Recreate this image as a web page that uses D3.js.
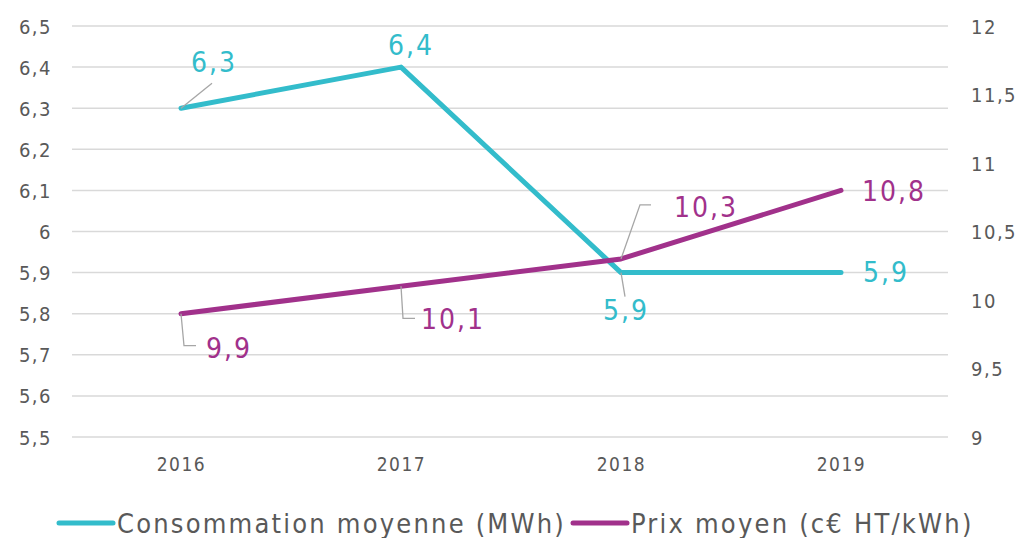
<!DOCTYPE html>
<html lang="fr">
<head>
<meta charset="UTF-8" />
<title>Consommation et prix moyens</title>
<style>
  body { margin: 0; background: #fff; }
  svg text { font-family: "DejaVu Sans Condensed", "DejaVu Sans", sans-serif; }
</style>
</head>
<body>
<script src="https://cdn.jsdelivr.net/npm/d3@7/dist/d3.min.js"></script>
<script>
// data
var years = ["2016", "2017", "2018", "2019"];
var consommation = [6.3, 6.4, 5.9, 5.9];
var prix = [9.9, 10.1, 10.3, 10.8];
var leftTicks = [5.5, 5.6, 5.7, 5.8, 5.9, 6, 6.1, 6.2, 6.3, 6.4, 6.5];
var rightTicks = [9, 9.5, 10, 10.5, 11, 11.5, 12];

var width = 1020, height = 538;
var teal = "#33bccb", purple = "#a1318b", grey = "#595959";

var svg = d3.select("body").append("svg")
  .attr("width", width)
  .attr("height", height);

var x = d3.scalePoint().domain(years).range([71, 951]).padding(0.5);
var yL = d3.scaleLinear().domain([5.5, 6.5]).range([437, 26]);
var yR = d3.scaleLinear().domain([9, 12]).range([437, 26]);

var fmt = function(v) { return String(v).replace(".", ","); };

// gridlines
svg.append("g").selectAll("line")
  .data(leftTicks).enter().append("line")
  .attr("x1", 72).attr("x2", 948)
  .attr("y1", function(d) { return yL(d); })
  .attr("y2", function(d) { return yL(d); })
  .attr("stroke", "#d9d9d9").attr("stroke-width", 1.5);

// left axis
var axL = svg.append("g").attr("transform", "translate(52,0)")
  .call(d3.axisLeft(yL).tickValues(leftTicks).tickFormat(fmt).tickSize(0).tickPadding(0));
axL.select(".domain").remove();
axL.selectAll("text").attr("fill", grey).style("font-size", "20px")
  .style("letter-spacing", "1.5px").attr("dy", "0.35em");

// right axis
var axR = svg.append("g").attr("transform", "translate(971,0)")
  .call(d3.axisRight(yR).tickValues(rightTicks).tickFormat(fmt).tickSize(0).tickPadding(0));
axR.select(".domain").remove();
axR.selectAll("text").attr("fill", grey).style("font-size", "20px")
  .style("letter-spacing", "1.5px").attr("dy", "0.35em");

// x axis
var axX = svg.append("g").attr("transform", "translate(0,457)")
  .call(d3.axisBottom(x).tickSize(0).tickPadding(0));
axX.select(".domain").remove();
axX.selectAll("text").attr("fill", grey).style("font-size", "19px")
  .style("letter-spacing", "1.5px").attr("dy", "0.71em");

// lines
var lineL = d3.line().x(function(d, i) { return x(years[i]); }).y(function(d) { return yL(d); });
var lineR = d3.line().x(function(d, i) { return x(years[i]); }).y(function(d) { return yR(d); });

svg.append("path").datum(consommation).attr("d", lineL)
  .attr("fill", "none").attr("stroke", teal).attr("stroke-width", 5)
  .attr("stroke-linecap", "round").attr("stroke-linejoin", "round");
svg.append("path").datum(prix).attr("d", lineR)
  .attr("fill", "none").attr("stroke", purple).attr("stroke-width", 5)
  .attr("stroke-linecap", "round").attr("stroke-linejoin", "round");

// data labels: offsets from point (dx, dy of label centre), optional leader path
var consLabels = [
  { dx: 32, dy: -46, leader: [[0, 0], [31, -25]] },
  { dx: 9, dy: -22, leader: null },
  { dx: 4, dy: 38, leader: [[0, 0], [4, 24]] },
  { dx: 44, dy: 0, leader: null }
];
var prixLabels = [
  { dx: 47, dy: 34, leader: [[0, 0], [3, 32], [15, 32]] },
  { dx: 51, dy: 33, leader: [[0, 0], [2, 32], [14, 32]] },
  { dx: 84, dy: -52, leader: [[0, 0], [19, -54], [30, -54]] },
  { dx: 52, dy: 1, leader: null }
];

function drawLabels(values, placements, yScale, colour) {
  var g = svg.append("g");
  values.forEach(function(v, i) {
    var px = x(years[i]), py = yScale(v), p = placements[i];
    if (p.leader) {
      g.append("path")
        .attr("d", d3.line()(p.leader.map(function(q) { return [px + q[0], py + q[1]]; })))
        .attr("fill", "none").attr("stroke", "#a6a6a6").attr("stroke-width", 1.3);
    }
    g.append("text")
      .attr("x", px + p.dx + 1).attr("y", py + p.dy)
      .attr("text-anchor", "middle").attr("dy", "0.35em")
      .attr("fill", colour).style("font-size", "28px")
      .style("letter-spacing", "2px")
      .text(fmt(v));
  });
}
drawLabels(consommation, consLabels, yL, teal);
drawLabels(prix, prixLabels, yR, purple);

// legend
var legend = [
  { name: "Consommation moyenne (MWh)", colour: teal, x: 58 },
  { name: "Prix moyen (c€ HT/kWh)", colour: purple, x: 572 }
];
var lg = svg.append("g").selectAll("g").data(legend).enter().append("g")
  .attr("transform", function(d) { return "translate(" + d.x + ",523)"; });
lg.append("line").attr("x1", 1).attr("x2", 55)
  .attr("stroke", function(d) { return d.colour; }).attr("stroke-width", 5)
  .attr("stroke-linecap", "round");
lg.append("text").attr("x", 59).attr("dy", "0.36em")
  .attr("fill", grey).style("font-size", "27px")
  .style("letter-spacing", "2.2px")
  .text(function(d) { return d.name; });
</script>
</body>
</html>
